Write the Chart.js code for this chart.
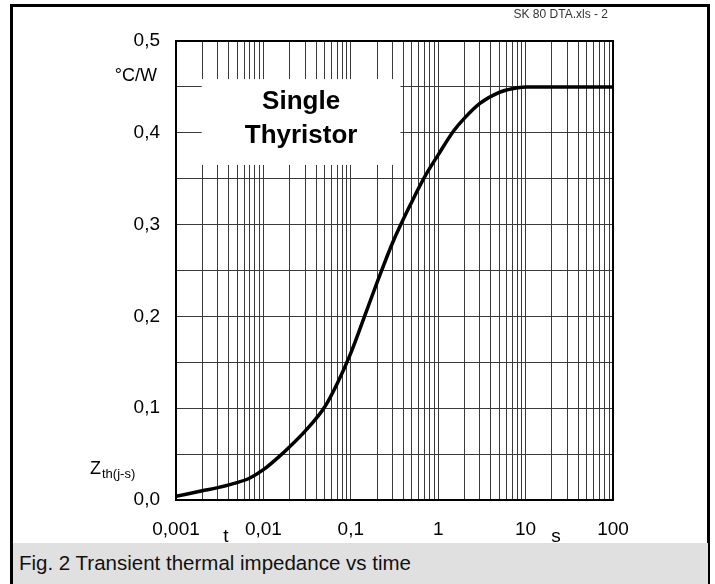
<!DOCTYPE html>
<html>
<head>
<meta charset="utf-8">
<script src="https://cdn.jsdelivr.net/npm/chart.js@4/dist/chart.umd.min.js"></script>
<style>
  body { margin:0; background:#fff; }
  #wrap { position:relative; width:715px; height:584px; overflow:hidden; font-family:'Liberation Sans', Arial, sans-serif; }
  #frame { position:absolute; left:10px; top:4px; width:694px; height:600px; border:3px solid #000; }
  #chart { position:absolute; left:0; top:0; }
  #caption { position:absolute; left:13px; top:543px; width:695px; height:41px; background:#e0e0e0;
             font-size:20.5px; line-height:40px; padding-left:6px; box-sizing:border-box; color:#111; }
</style>
</head>
<body>
<div id="wrap">
  <div id="frame"></div>
  <canvas id="chart" width="715" height="584"></canvas>
  <div id="caption">Fig. 2 Transient thermal impedance vs time</div>
</div>
<script>
// curve: t in s, Zth(j-s) in °C/W
const times = [0.001, 0.002, 0.003, 0.005, 0.007, 0.01, 0.015, 0.02, 0.03, 0.05, 0.07, 0.1,
               0.15, 0.2, 0.3, 0.5, 0.7, 1, 1.5, 2, 3, 5, 7, 10, 100];
const zth   = [0.004, 0.010, 0.0135, 0.019, 0.024, 0.033, 0.047, 0.058, 0.075, 0.101, 0.127, 0.16,
               0.205, 0.237, 0.28, 0.325, 0.352, 0.376, 0.402, 0.416, 0.432, 0.444, 0.448, 0.45, 0.45];

const decades      = [0.001, 0.01, 0.1, 1, 10, 100];
const decadeLabels = ['0,001', '0,01', '0,1', '1', '10', '100'];
const yTicks  = [0, 0.05, 0.1, 0.15, 0.2, 0.25, 0.3, 0.35, 0.4, 0.45, 0.5];
const yLabels = ['0,0', '', '0,1', '', '0,2', '', '0,3', '', '0,4', '', '0,5'];

const FONT = "'Liberation Sans', Arial, sans-serif";

// log grid: 1..9 in every decade
const xGrid = [];
decades.forEach((d, i) => {
  if (i === decades.length - 1) { xGrid.push(d); return; }
  for (let k = 1; k <= 9; k++) xGrid.push(+(d * k).toPrecision(3));
});

const decadeLabel = v => {
  const i = decades.findIndex(d => Math.abs(Math.log10(d) - Math.log10(v)) < 1e-6);
  return i < 0 ? '' : decadeLabels[i];
};

const decor = {
  id: 'decor',
  beforeDatasetsDraw(chart) {
    const {ctx, scales:{x, y}} = chart;
    // white label box that cuts the grid
    const l = x.getPixelForValue(0.00197), r = x.getPixelForValue(0.37);
    const t = y.getPixelForValue(0.4585), b = y.getPixelForValue(0.365);
    ctx.save();
    ctx.fillStyle = '#fff';
    ctx.fillRect(l, t, r - l, b - t);
    ctx.fillStyle = '#000';
    ctx.font = 'bold 26px ' + FONT;
    ctx.textAlign = 'center';
    ctx.textBaseline = 'alphabetic';
    const cx = (l + r) / 2;
    ctx.fillText('Single', cx, t + 30);
    ctx.fillText('Thyristor', cx, t + 64);
    ctx.restore();
  },
  afterDraw(chart) {
    const {ctx, chartArea:a} = chart;
    ctx.save();
    ctx.strokeStyle = '#000';
    ctx.lineWidth = 2;
    ctx.strokeRect(a.left, a.top, a.right - a.left, a.bottom - a.top);

    ctx.fillStyle = '#000';
    ctx.textBaseline = 'alphabetic';
    ctx.textAlign = 'right';
    ctx.font = '18px ' + FONT;
    ctx.fillText('°C/W', 157, 81);

    ctx.textAlign = 'left';
    ctx.font = '18px ' + FONT;
    ctx.fillText('Z', 90, 474);
    ctx.font = '13px ' + FONT;
    ctx.fillText('th(j-s)', 102, 478);

    ctx.font = '19px ' + FONT;
    ctx.textAlign = 'center';
    ctx.fillText('t', 226, 542);
    ctx.fillText('s', 556, 542);

    ctx.font = '12px ' + FONT;
    ctx.fillStyle = '#333';
    ctx.textAlign = 'right';
    ctx.fillText('SK 80 DTA.xls - 2', 608, 18);
    ctx.restore();
  }
};

new Chart(document.getElementById('chart'), {
  type: 'line',
  data: {
    datasets: [{
      data: times.map((t, i) => ({x: t, y: zth[i]})),
      borderColor: '#000',
      borderWidth: 3.5,
      pointRadius: 0,
      cubicInterpolationMode: 'monotone',
      fill: false
    }]
  },
  options: {
    responsive: false,
    animation: false,
    layout: { padding: { top: 41, right: 102, left: 0, bottom: 0 } },
    plugins: { legend: { display: false }, tooltip: { enabled: false } },
    scales: {
      x: {
        type: 'logarithmic',
        min: 0.001, max: 100,
        afterBuildTicks: s => { s.ticks = xGrid.map(v => ({value: v})); },
        afterFit: s => { s.height = 84; },
        grid: { color: '#3a3a3a', lineWidth: 1, drawTicks: false },
        border: { display: false },
        ticks: {
          autoSkip: false, maxRotation: 0, padding: 18,
          color: '#000', font: { family: FONT, size: 19 },
          callback: v => decadeLabel(v)
        }
      },
      y: {
        min: 0, max: 0.5,
        afterBuildTicks: s => { s.ticks = yTicks.map(v => ({value: v})); },
        afterFit: s => { s.width = 176; },
        grid: { color: '#3a3a3a', lineWidth: 1, drawTicks: false },
        border: { display: false },
        ticks: {
          padding: 16, color: '#000', font: { family: FONT, size: 19 },
          callback: v => yLabels[yTicks.indexOf(+v.toFixed(2))] ?? ''
        }
      }
    }
  },
  plugins: [decor]
});
</script>
</body>
</html>
